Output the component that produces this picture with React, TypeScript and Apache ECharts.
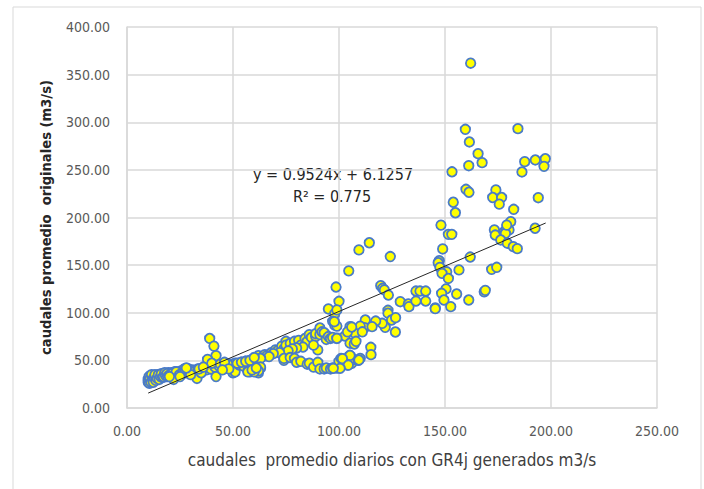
import React, { useEffect, useRef } from "react";
import * as echarts from "echarts";

// x: caudales promedio diarios con GR4j generados (m3/s), y: caudales promedio originales (m3/s)
const lowBand: number[][] = [
  [10, 27], [10, 30], [10.3, 28], [10.5, 32], [10.8, 29], [11, 31], [11, 34], [11.2, 28], [11.5, 30], [11.8, 33],
  [12, 29], [12, 32], [12.3, 31], [12.6, 34], [13, 30], [13, 33], [13.4, 32], [13.8, 31], [14, 34], [14.5, 33],
  [15, 32], [15, 35], [15.5, 31], [16, 34], [16.5, 33], [17, 35], [17.5, 34], [18, 36], [18.5, 33], [19, 35],
  [19.5, 37], [20, 36], [20.5, 34], [21, 37], [21.5, 35], [22, 36], [22.5, 38], [23, 35], [23.5, 37], [24, 36],
  [24.5, 38], [25, 37], [25.5, 39], [26, 36], [26.5, 38], [27, 41], [27.5, 39], [28, 40], [28.5, 38], [29, 41],
  [29.5, 37], [30, 39], [31, 40], [32, 38], [33, 40], [34, 39], [35, 41], [36, 40], [37, 42], [38, 41],
  [39, 43], [40, 41], [41, 42], [42, 44], [43, 42], [44, 43], [45, 45], [46, 44], [47, 45], [48, 43],
  [49, 46], [50, 45], [51, 47], [52, 46], [53, 47], [54, 48], [55, 47], [56, 49], [57, 48], [58, 50],
  [59, 49], [60, 51],
];

const lowDense: number[][] = [
  [10.2, 29], [10.4, 33], [10.6, 26], [10.9, 31], [11.3, 27], [11.6, 35], [12.1, 30], [12.4, 27], [12.8, 32], [13.2, 35],
  [13.6, 29], [14.2, 31], [14.8, 35], [15.2, 30], [15.8, 33], [16.2, 36], [16.8, 32], [17.2, 33], [17.8, 37], [18.2, 34],
  [18.8, 36], [19.2, 33], [20.2, 35], [21.2, 36], [23.2, 38], [24.8, 35], [26.2, 37], [27.2, 37], [29.2, 39], [31.5, 38],
  [33.5, 41], [35.5, 39], [37.5, 40], [39.5, 41], [41.5, 43], [43.5, 44], [45.5, 43], [47.5, 46],
];

const lowExtras: number[][] = [
  [22, 30], [33, 31], [42, 33], [39, 73], [41, 65], [42, 55], [38, 51], [40, 47], [44, 46], [46, 48],
  [50, 37], [51, 38], [53, 45], [55, 44], [57, 39], [58, 38], [60, 41], [62, 37], [63, 42], [48, 41],
  [45, 40], [35, 37], [30, 35], [25, 33], [20, 33], [28, 42], [34, 41], [36, 43],
];

const midUpper: number[][] = [
  [61, 53], [62, 55], [64, 54], [65, 56], [66, 55], [68, 58], [70, 61], [71, 60], [73, 65], [74, 62],
  [75, 70], [75, 66], [77, 68], [79, 70], [81, 71], [82, 66], [84, 73], [85, 70], [86, 77], [87, 74],
  [89, 75], [89, 78], [91, 77], [91, 84], [92, 80], [93, 79], [94, 72], [95, 75], [96, 73], [97, 74],
  [99, 73], [90, 61], [88, 66], [83, 64], [80, 63], [78, 62], [76, 60], [72, 58], [69, 57], [67, 54],
  [63, 52], [52, 47], [54, 48], [56, 49], [58, 50], [60, 53],
];

const midLower: number[][] = [
  [74, 50], [74, 52], [77, 53], [79, 52], [80, 48], [82, 49], [85, 46], [86, 47], [88, 43], [90, 48],
  [91, 41], [93, 41], [94, 42], [96, 41], [97, 42], [99, 42], [100, 43], [100, 49], [101, 52], [102, 51],
  [104, 45], [105, 55], [106, 47], [107, 51], [109, 50], [110, 52], [63, 43], [62, 39], [60, 38], [57, 38],
  [59, 40], [61, 42],
];

const midScatter: number[][] = [
  [95, 104], [98, 99], [97, 91], [98, 87], [99, 86], [98.6, 127], [100, 112], [99, 103], [104.6, 144], [109.4, 166],
  [114.3, 173.5], [124.2, 159], [119.7, 128.4], [120.6, 125.7], [121.4, 124], [123.3, 118.6], [128.9, 111.6], [132.7, 109.2], [133, 106.4], [136.3, 122.8],
  [138.2, 122.8], [140.9, 122.8], [136.3, 112.3], [140.9, 112.3], [145.4, 105], [123.1, 102.6], [123.1, 99.5], [124.8, 92.4], [126.7, 94.8], [126.6, 79.8],
  [121.8, 84.7], [120.4, 88.9], [117.3, 91.3], [112.4, 92.4], [112, 84.3], [115.6, 85.4], [110, 86], [105.2, 85.4], [107.5, 78.4], [102.8, 75.6],
  [99, 73.2], [105.2, 68], [107.2, 67.2], [97.8, 90.6], [115, 63.7], [115.1, 56], [105.2, 55.3], [109.4, 50.4], [101.6, 51.8], [104.4, 45.1],
  [100.5, 41.7], [97.3, 41.7], [104, 80], [106, 85], [108, 70], [111, 80],
];

const highScatter: number[][] = [
  [148.1, 192], [148.9, 167], [147.3, 154.6], [146.8, 152.5], [147.6, 147.6], [150.8, 143], [148.6, 141.4], [151.6, 136], [156.6, 145], [150.5, 125],
  [148.4, 120.4], [155.5, 119.7], [149.5, 113.4], [152.7, 106.4], [145.4, 104.3], [161.2, 113.4], [168.5, 122], [169, 123.5], [151.6, 182.3], [153.2, 182.3],
  [153.9, 216], [154.9, 205], [153.3, 248], [159.9, 229.6], [161.3, 226.5], [161.9, 158.5], [172, 145.6], [174.4, 147.7], [173.3, 187], [173.7, 181.6],
  [174, 229], [172.5, 221], [176.7, 221], [175.6, 214], [177.8, 185], [178.8, 187], [180.2, 187], [178.5, 183.4], [176.3, 176.4], [179.4, 173],
  [182.2, 169.4], [184.1, 167.3], [181, 195.6], [179.1, 192], [182.4, 208.6], [194, 220.8], [192.5, 188.7], [162.1, 362], [159.6, 292.6], [184.4, 293.3],
  [161.5, 279.3], [165.6, 267], [167.5, 257.6], [161.2, 254.4], [187.6, 258.6], [186.3, 247.8], [192.6, 260.4], [197.3, 261.7], [196.7, 253.7],
];

const trendSlope = 0.9524;
const trendIntercept = 6.1257;
const trendXRange = [10, 197.5];
const equationLabel = "y = 0.9524x + 6.1257";
const r2Label = "R² = 0.775";
const xAxisTitle = "caudales  promedio diarios con GR4j generados m3/s";
const yAxisTitle = "caudales promedio  originales (m3/s)";

const FONT = "'Liberation Sans Narrow', 'DejaVu Sans Condensed', 'Liberation Sans', sans-serif";

export default function App() {
  const ref = useRef<HTMLDivElement>(null);
  useEffect(() => {
    if (!ref.current) return;
    const chart = echarts.init(ref.current, undefined, { renderer: "svg" });
    const points = [...lowBand, ...lowDense, ...lowExtras, ...midUpper, ...midLower, ...midScatter, ...highScatter];
    const trend = trendXRange.map((x) => [x, trendSlope * x + trendIntercept]);
    chart.setOption({
      animation: false,
      backgroundColor: "#ffffff",
      grid: { left: 127, right: 47, top: 27, bottom: 81 },
      xAxis: {
        type: "value",
        min: 0,
        max: 250,
        interval: 50,
        name: xAxisTitle,
        nameLocation: "middle",
        nameGap: 43,
        nameTextStyle: { fontFamily: FONT, fontSize: 17, color: "#404040" },
        axisLine: { show: true, lineStyle: { color: "#d9d9d9", width: 1.5 } },
        axisTick: { show: false },
        splitLine: { show: true, lineStyle: { color: "#d9d9d9", width: 1.5 } },
        axisLabel: {
          formatter: (v: number) => v.toFixed(2),
          fontFamily: FONT,
          fontSize: 14,
          color: "#595959",
          margin: 16,
        },
      },
      yAxis: {
        type: "value",
        min: 0,
        max: 400,
        interval: 50,
        name: yAxisTitle,
        nameLocation: "middle",
        nameGap: 74,
        nameTextStyle: { fontFamily: FONT, fontSize: 14.6, color: "#262626", fontWeight: "bold" },
        axisLine: { show: true, lineStyle: { color: "#d9d9d9", width: 1.5 } },
        axisTick: { show: false },
        splitLine: { show: true, lineStyle: { color: "#d9d9d9", width: 1.5 } },
        axisLabel: {
          formatter: (v: number) => v.toFixed(2),
          fontFamily: FONT,
          fontSize: 14,
          color: "#595959",
          margin: 17,
        },
      },
      series: [
        {
          type: "scatter",
          data: points,
          symbol: "circle",
          symbolSize: 9.5,
          itemStyle: { color: "#ffff00", borderColor: "#4a7bc8", borderWidth: 1.8, opacity: 1 },
          z: 2,
        },
        {
          type: "line",
          data: trend,
          symbol: "none",
          lineStyle: { color: "#262626", width: 1 },
          z: 3,
        },
      ],
      graphic: [
        {
          type: "rect",
          shape: { x: 13, y: 7, width: 688, height: 495 },
          style: { fill: "none", stroke: "#d9d9d9", lineWidth: 1 },
          silent: true,
        },
        {
          type: "text",
          x: 333,
          y: 174,
          style: {
            text: equationLabel,
            fontFamily: FONT,
            fontSize: 16,
            fill: "#262626",
            textAlign: "center",
            textVerticalAlign: "middle",
          },
        },
        {
          type: "text",
          x: 332,
          y: 196,
          style: {
            text: r2Label,
            fontFamily: FONT,
            fontSize: 16,
            fill: "#262626",
            textAlign: "center",
            textVerticalAlign: "middle",
          },
        },
      ],
    });
    return () => chart.dispose();
  }, []);
  return <div ref={ref} style={{ width: 704, height: 489, position: "absolute", left: 0, top: 0 }} />;
}
